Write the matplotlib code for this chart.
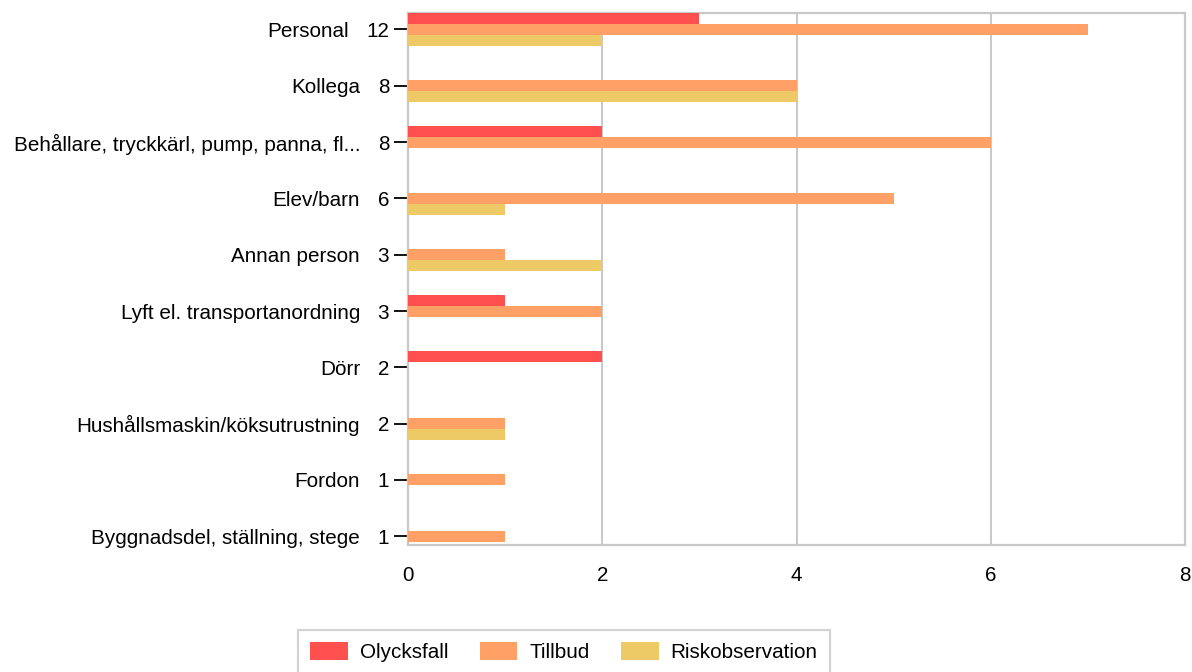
import matplotlib
matplotlib.use('Agg')
import numpy as np
import matplotlib.pyplot as plt
from matplotlib.patches import Patch

plt.rcParams['font.family'] = ['Liberation Sans', 'DejaVu Sans']

categories = ["Personal", "Kollega", "Behållare, tryckkärl, pump, panna, fl...",
              "Elev/barn", "Annan person", "Lyft el. transportanordning", "Dörr",
              "Hushållsmaskin/köksutrustning", "Fordon", "Byggnadsdel, ställning, stege"]
totals = [12, 8, 8, 6, 3, 3, 2, 2, 1, 1]
olycksfall = [3, 0, 2, 0, 0, 1, 2, 0, 0, 0]
tillbud = [7, 4, 6, 5, 1, 2, 0, 1, 1, 1]
riskobs = [2, 4, 0, 1, 2, 0, 0, 1, 0, 0]

series = [("Olycksfall", olycksfall, "#FF5050"),
          ("Tillbud", tillbud, "#FFA066"),
          ("Riskobservation", riskobs, "#EDCA66")]

fs = 14.9
grid_c = "#C8C8C8"

fig = plt.figure(figsize=(11.92, 6.72), dpi=100)
ax = fig.add_axes([408 / 1192, 1 - 545 / 672, 777 / 1192, 532 / 672])

y = np.arange(len(categories))
bh = 11 / 56.3
for i, (name, vals, col) in enumerate(series):
    ax.barh(y + (i - 1) * bh, vals, height=bh, color=col, label=name, zorder=3)

ax.set_xlim(0, 8)
ax.set_ylim(9.156, -0.293)
ax.set_xticks([0, 2, 4, 6, 8])
ax.set_yticks(y)
ax.set_yticklabels([str(t) for t in totals])
ax.xaxis.grid(True, color=grid_c, linewidth=1.4, zorder=0)
for s in ax.spines.values():
    s.set_color(grid_c)
    s.set_linewidth(1.6)
ax.tick_params(axis='y', length=10, width=1.3, color='k', pad=3.6, labelsize=fs)
ax.tick_params(axis='x', length=0, pad=15, labelsize=fs)

# category names sit left of the count labels, so shift by the count width
digit_w = 0.556 * fs
for yi, name, tot in zip(y, categories, totals):
    ax.annotate(name, xy=(0, yi), xycoords=('axes fraction', 'data'),
                xytext=(-(26.2 + digit_w * len(str(tot))), 0), textcoords='offset points',
                ha='right', va='center_baseline', fontsize=fs)

handles = [Patch(facecolor=c, label=n) for n, _, c in series]
leg = fig.legend(handles=handles, loc='upper center', bbox_to_anchor=(0.473, 1 - 630 / 672),
                 ncol=3, fontsize=fs, frameon=True, fancybox=False, borderaxespad=0,
                 handlelength=1.83, handleheight=0.9, handletextpad=0.58,
                 columnspacing=1.5, borderpad=0.6)
leg.get_frame().set_edgecolor(grid_c)
leg.get_frame().set_linewidth(1.6)

fig.savefig("out.png", dpi=100)
